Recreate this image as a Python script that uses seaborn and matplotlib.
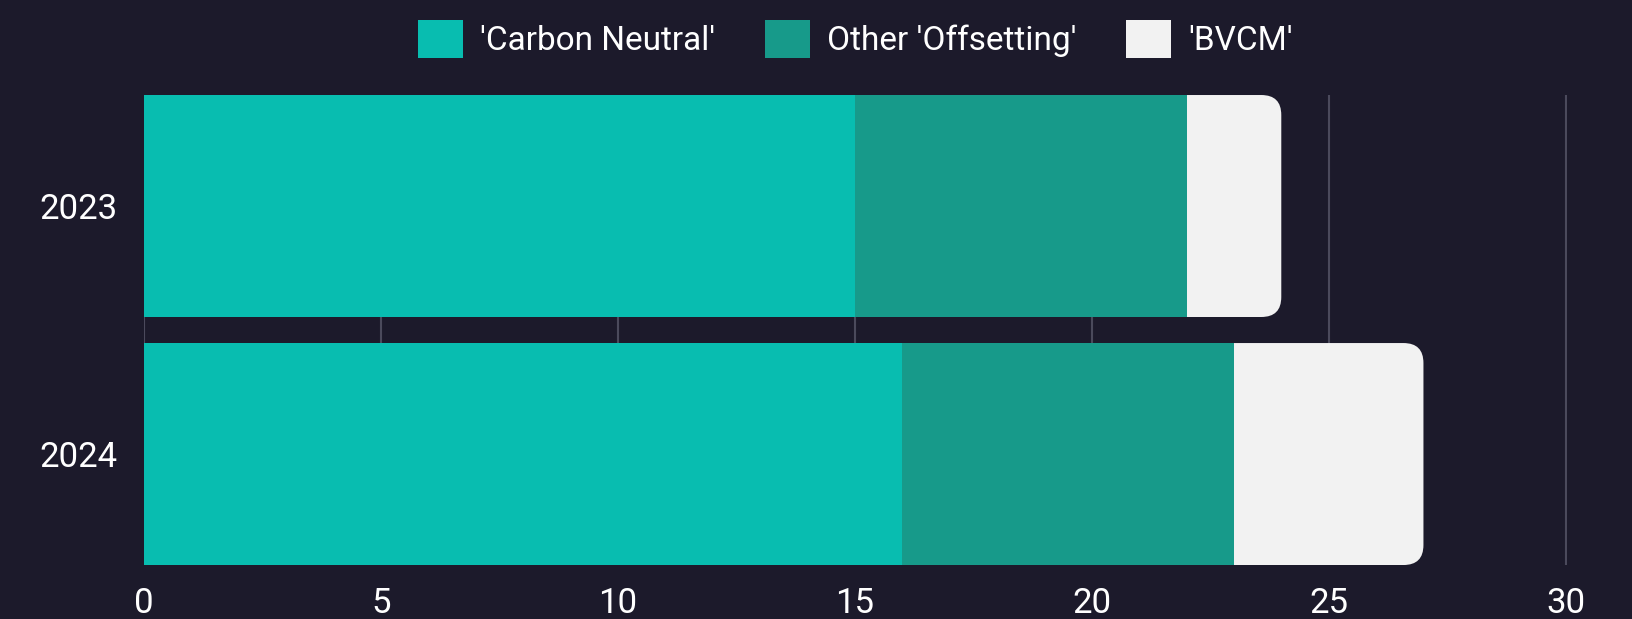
import numpy as np
import pandas as pd
import matplotlib
matplotlib.use('Agg')
import matplotlib.pyplot as plt
import seaborn as sns
from matplotlib.patches import FancyBboxPatch, Patch

# Data
years = ['2023', '2024']
carbon_neutral = [15, 16]
other_offsetting = [7, 7]
bvcm = [2, 4]
series_names = ["'Carbon Neutral'", "Other 'Offsetting'", "'BVCM'"]
series_colors = ['#08bdb0', '#179a8a', '#f2f2f2']
x_ticks = [0, 5, 10, 15, 20, 25, 30]

bg = '#1c1a2b'
grid_col = '#4b4a5c'

sns.set_style('dark', rc={'axes.facecolor': bg, 'figure.facecolor': bg})
plt.rcParams['font.family'] = ['Roboto', 'DejaVu Sans']

df = pd.DataFrame({'year': years, 'cn': carbon_neutral,
                   'oo': other_offsetting, 'bvcm': bvcm})
df['s2'] = df['cn'] + df['oo']
df['s3'] = df['s2'] + df['bvcm']

fig, ax = plt.subplots(figsize=(16.33, 6.19), dpi=100)
fig.subplots_adjust(left=0.0882, right=0.9596, bottom=0.0872, top=0.8465)

bar_w = 0.895
# draw totals first, then overlay the shorter stacks
sns.barplot(x='s3', y='year', data=df, color=series_colors[2], width=bar_w,
            saturation=1, linewidth=0, edgecolor='none', ax=ax, zorder=2)
sns.barplot(x='s2', y='year', data=df, color=series_colors[1], width=bar_w,
            saturation=1, linewidth=0, edgecolor='none', ax=ax, zorder=3)
sns.barplot(x='cn', y='year', data=df, color=series_colors[0], width=bar_w,
            saturation=1, linewidth=0, edgecolor='none', ax=ax, zorder=4)

ax.set_xlim(0, 30.03)
ax.set_ylim(1 + bar_w / 2, -bar_w / 2)

# round the right end of the outermost segment
fig.canvas.draw()
px_x = (ax.get_xlim()[1] - ax.get_xlim()[0]) / ax.bbox.width
px_y = abs(ax.get_ylim()[1] - ax.get_ylim()[0]) / ax.bbox.height
radius = 20 * px_x
for p in list(ax.patches[:len(years)]):
    x0, y0 = p.get_x(), p.get_y()
    w, h = p.get_width(), p.get_height()
    p.remove()
    rb = FancyBboxPatch((x0, y0), w, h,
                        boxstyle=f'round,pad=0,rounding_size={radius}',
                        mutation_aspect=px_y / px_x,
                        facecolor=series_colors[2], edgecolor='none',
                        linewidth=0, zorder=2)
    ax.add_patch(rb)

ax.set_xticks(x_ticks)
ax.grid(axis='x', color=grid_col, linewidth=1.5, zorder=0)
ax.grid(axis='y', visible=False)
ax.set_axisbelow(True)
for s in ax.spines.values():
    s.set_visible(False)
ax.set_xlabel('')
ax.set_ylabel('')
ax.tick_params(axis='x', length=0, pad=16, labelsize=25, labelcolor='white')
ax.tick_params(axis='y', length=0, pad=19, labelsize=25, labelcolor='white')

handles = [Patch(facecolor=c, edgecolor='none', label=n)
           for n, c in zip(series_names, series_colors)]
fig.legend(handles=handles, loc='center', bbox_to_anchor=(0.5239, 0.937), ncol=3,
           frameon=False, fontsize=24, labelcolor='white',
           handlelength=1.35, handleheight=1.35, handletextpad=0.5,
           columnspacing=1.5)

fig.savefig('out.png', dpi=100, facecolor=bg)
